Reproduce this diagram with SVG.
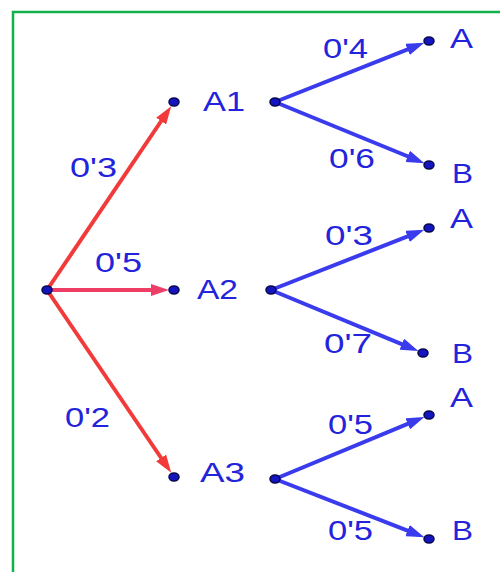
<svg xmlns="http://www.w3.org/2000/svg" width="500" height="572" viewBox="0 0 500 572">
<defs>
<style>
.lbl{font-family:"Liberation Sans",Arial,sans-serif;font-size:28px;fill:#2323dc}
.red{stroke:#f23a3a;stroke-width:4;fill:none}
.pink{stroke:#ee3e66;stroke-width:4;fill:none}
.blue{stroke:#3b3bee;stroke-width:4;fill:none}
.dot{fill:#1414c0;stroke:#06064a;stroke-width:1.5}
</style>
<marker id="hr" markerUnits="userSpaceOnUse" viewBox="0 0 18 12" refX="11" refY="6" markerWidth="18" markerHeight="12" orient="auto"><path d="M0,0 L18,6 L0,12 z" fill="#f23a3a"/></marker>
<marker id="hp" markerUnits="userSpaceOnUse" viewBox="0 0 18 12" refX="11" refY="6" markerWidth="18" markerHeight="12" orient="auto"><path d="M0,0 L18,6 L0,12 z" fill="#ee3e66"/></marker>
<marker id="hb" markerUnits="userSpaceOnUse" viewBox="0 0 18 12" refX="11" refY="6" markerWidth="18" markerHeight="12" orient="auto"><path d="M0,0 L18,6 L0,12 z" fill="#3b3bee"/></marker>
</defs>
<rect width="500" height="572" fill="#ffffff"/>
<path d="M13,572 L13,12 L500,12" fill="none" stroke="#12b04a" stroke-width="2.5"/>
<g id="connectors">
<line class="red" x1="47" y1="290" x2="167.3" y2="112" marker-end="url(#hr)"/>
<line class="pink" x1="47" y1="290" x2="162" y2="290" marker-end="url(#hp)"/>
<line class="red" x1="47" y1="290" x2="167.3" y2="467" marker-end="url(#hr)"/>
<line class="blue" x1="275" y1="102" x2="417.8" y2="45.4" marker-end="url(#hb)"/>
<line class="blue" x1="275" y1="102" x2="417.9" y2="160.5" marker-end="url(#hb)"/>
<line class="blue" x1="271" y1="290" x2="417.8" y2="232.4" marker-end="url(#hb)"/>
<line class="blue" x1="271" y1="290" x2="411.9" y2="348.4" marker-end="url(#hb)"/>
<line class="blue" x1="275" y1="479" x2="417.9" y2="419.6" marker-end="url(#hb)"/>
<line class="blue" x1="275" y1="479" x2="417.8" y2="534.6" marker-end="url(#hb)"/>
<text class="lbl" x="70" y="177" textLength="47" lengthAdjust="spacingAndGlyphs">0'3</text>
<text class="lbl" x="95" y="272" textLength="47" lengthAdjust="spacingAndGlyphs">0'5</text>
<text class="lbl" x="65" y="427" textLength="45" lengthAdjust="spacingAndGlyphs">0'2</text>
<text class="lbl" x="323" y="58" textLength="45" lengthAdjust="spacingAndGlyphs">0'4</text>
<text class="lbl" x="329" y="168" textLength="46" lengthAdjust="spacingAndGlyphs">0'6</text>
<text class="lbl" x="325" y="245" textLength="48" lengthAdjust="spacingAndGlyphs">0'3</text>
<text class="lbl" x="324" y="353" textLength="48" lengthAdjust="spacingAndGlyphs">0'7</text>
<text class="lbl" x="328" y="434" textLength="45" lengthAdjust="spacingAndGlyphs">0'5</text>
<text class="lbl" x="328" y="540" textLength="45" lengthAdjust="spacingAndGlyphs">0'5</text>
</g>
<g id="root"><ellipse class="dot" cx="47" cy="290" rx="5" ry="4"/></g>
<g id="A1"><ellipse class="dot" cx="174" cy="102" rx="5" ry="4"/><text class="lbl" x="203" y="111" textLength="42" lengthAdjust="spacingAndGlyphs">A1</text><ellipse class="dot" cx="275" cy="102" rx="5" ry="4"/></g>
<g id="A2"><ellipse class="dot" cx="174" cy="290" rx="5" ry="4"/><text class="lbl" x="197" y="299" textLength="41" lengthAdjust="spacingAndGlyphs">A2</text><ellipse class="dot" cx="271" cy="290" rx="5" ry="4"/></g>
<g id="A3"><ellipse class="dot" cx="174" cy="477" rx="5" ry="4"/><text class="lbl" x="200" y="482" textLength="45" lengthAdjust="spacingAndGlyphs">A3</text><ellipse class="dot" cx="275" cy="479" rx="5" ry="4"/></g>
<g id="A1-A"><ellipse class="dot" cx="429" cy="41" rx="5" ry="4"/><text class="lbl" x="450" y="48" textLength="23" lengthAdjust="spacingAndGlyphs">A</text></g>
<g id="A1-B"><ellipse class="dot" cx="429" cy="165" rx="5" ry="4"/><text class="lbl" x="452" y="183" textLength="21" lengthAdjust="spacingAndGlyphs">B</text></g>
<g id="A2-A"><ellipse class="dot" cx="429" cy="228" rx="5" ry="4"/><text class="lbl" x="450" y="228" textLength="23" lengthAdjust="spacingAndGlyphs">A</text></g>
<g id="A2-B"><ellipse class="dot" cx="423" cy="353" rx="5" ry="4"/><text class="lbl" x="452" y="363" textLength="21" lengthAdjust="spacingAndGlyphs">B</text></g>
<g id="A3-A"><ellipse class="dot" cx="429" cy="415" rx="5" ry="4"/><text class="lbl" x="450" y="407" textLength="23" lengthAdjust="spacingAndGlyphs">A</text></g>
<g id="A3-B"><ellipse class="dot" cx="429" cy="539" rx="5" ry="4"/><text class="lbl" x="452" y="540" textLength="21" lengthAdjust="spacingAndGlyphs">B</text></g>
</svg>
